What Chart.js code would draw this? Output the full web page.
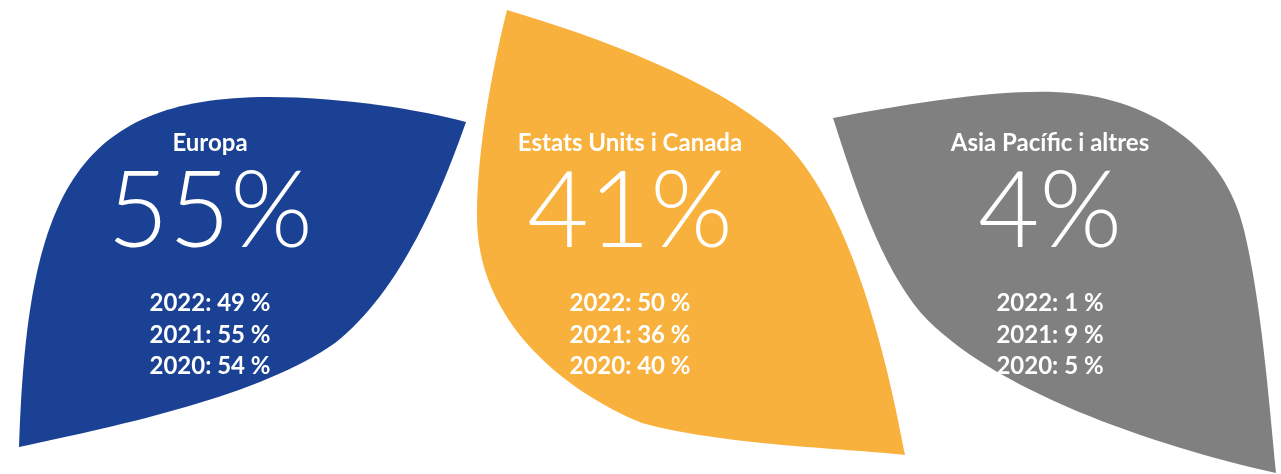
<!DOCTYPE html>
<html><head><meta charset="utf-8">
<script src="https://cdn.jsdelivr.net/npm/chart.js@4/dist/chart.umd.min.js"></script>
<style>html,body{margin:0;padding:0;background:#fff;} #wrap{width:1281px;height:474px;position:relative;}</style>
</head><body><div id="wrap"><canvas id="c"></canvas></div>
<script>
// ---- data ----
const regions = ['Europa', 'Estats Units i Canada', 'Asia Pacífic i altres'];
const shareTotal = [55, 41, 4];
const yearLabels = ['2022', '2021', '2020'];
const share2022 = [49, 50, 1];
const share2021 = [55, 36, 9];
const share2020 = [54, 40, 5];
const leafColors = ['#1a4193', '#f8b13d', '#808080'];

// leaf outlines (relative to each category centre x, absolute y) – decorative styling
const leafPaths = [
  [[-191,447],[-183,200,-138,97,59,97],[132,97,212,110,256,122],[232,190,192,290,125,343],[52,395,-88,425,-191,447]],
  [[-123,10],[-28,38,82,80,145,133],[212,190,252,330,275,455],[212,448,92,445,12,423],[-68,390,-153,320,-153,217],[-153,150,-138,70,-123,10]],
  [[-217,118],[-149,105,-59,90,4,92],[101,95,176,150,194,230],[211,300,219,400,226,473],[101,445,-59,390,-129,313],[-169,265,-194,190,-217,118]]
];

const leafPlugin = {
  id: 'leaves',
  beforeDatasetsDraw(chart) {
    const ctx = chart.ctx;
    const meta = chart.getDatasetMeta(0);
    meta.data.forEach((el, i) => {
      const cx = el.x;
      const p = leafPaths[i];
      ctx.save();
      ctx.beginPath();
      ctx.moveTo(cx + p[0][0], p[0][1]);
      for (let k = 1; k < p.length; k++) {
        const s = p[k];
        ctx.bezierCurveTo(cx + s[0], s[1], cx + s[2], s[3], cx + s[4], s[5]);
      }
      ctx.closePath();
      ctx.fillStyle = leafColors[i];
      ctx.fill();
      ctx.restore();
    });
  },
  afterDatasetsDraw(chart) {
    const ctx = chart.ctx;
    const meta = chart.getDatasetMeta(0);
    const yearVals = [share2022, share2021, share2020];
    meta.data.forEach((el, i) => {
      const cx = el.x;
      ctx.save();
      ctx.fillStyle = '#ffffff';
      ctx.textAlign = 'center';
      ctx.textBaseline = 'alphabetic';
      ctx.font = '700 24px Lato';
      ctx.fillText(chart.data.labels[i], cx, 151);
      ctx.font = '300 106px Lato';
      ctx.fillText(chart.data.datasets[0].data[i] + '%', cx, 247);
      ctx.font = '700 24px Lato';
      yearLabels.forEach((y, k) => {
        ctx.fillText(y + ': ' + yearVals[k][i] + ' %', cx, 311 + k * 31.5);
      });
      ctx.restore();
    });
  }
};

function build() {
  new Chart(document.getElementById('c'), {
    type: 'bar',
    data: {
      labels: regions,
      datasets: [{ data: shareTotal, backgroundColor: 'rgba(0,0,0,0)', borderWidth: 0 }]
    },
    options: {
      responsive: true,
      maintainAspectRatio: false,
      animation: false,
      layout: { padding: { left: -3, right: 21, top: 0, bottom: 0 } },
      scales: {
        x: { display: false },
        y: { display: false, min: 0, max: 100 }
      },
      plugins: { legend: { display: false }, tooltip: { enabled: false } }
    },
    plugins: [leafPlugin]
  });
}
Promise.all([
  document.fonts.load('300 106px Lato'),
  document.fonts.load('700 24px Lato')
]).then(build, build);
</script>
</body></html>
